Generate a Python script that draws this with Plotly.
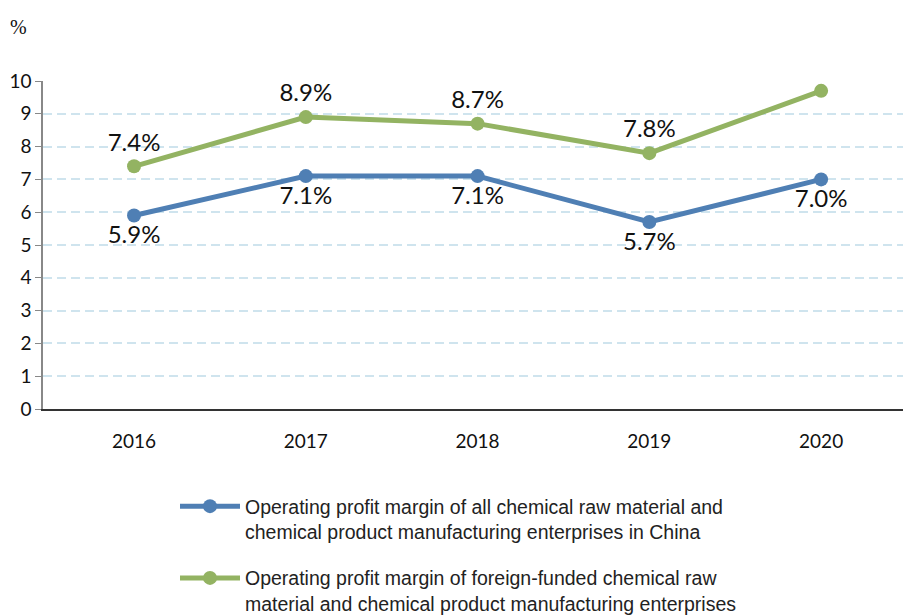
import plotly.graph_objects as go

years = ["2016", "2017", "2018", "2019", "2020"]
all_margin = [5.9, 7.1, 7.1, 5.7, 7.0]
foreign_margin = [7.4, 8.9, 8.7, 7.8, 9.7]
name_all = "Operating profit margin of all chemical raw material and<br>chemical product manufacturing enterprises in China"
name_foreign = "Operating profit margin of foreign-funded chemical raw<br>material and chemical product manufacturing enterprises"
y_ticks = list(range(0, 11))

fig = go.Figure()
fig.add_trace(go.Scatter(
    x=years, y=all_margin, name=name_all, mode="lines+markers+text",
    legendgroup="all",
    line=dict(color="#4f7fb4", width=5), marker=dict(size=14, color="#4f7fb4"),
    text=[f"{v:.1f}%" for v in all_margin], textposition="bottom center",
    textfont=dict(family="Lato", size=24, color="#111111"),
))
fig.add_trace(go.Scatter(
    x=years, y=foreign_margin, name=name_foreign, mode="lines+markers+text",
    legendgroup="foreign",
    line=dict(color="#93b362", width=5), marker=dict(size=14, color="#93b362"),
    text=[f"{v:.1f}%" for v in foreign_margin], textposition="top center",
    textfont=dict(family="Lato", size=24, color="#111111"),
))

# page body has an 8px margin, so the figure is drawn 8px in from the window edge
W, H = 903, 608
L, R, T, B = 35, 4, 73, 207
PW, PH = W - L - R, H - T - B
fig.update_layout(
    width=W, height=H,
    margin=dict(l=L, r=R, t=T, b=B, autoexpand=False),
    paper_bgcolor="white", plot_bgcolor="white",
    showlegend=True,
    legend=dict(
        x=(167 - L) / PW, y=((H - B) - 479) / PH, xanchor="left", yanchor="top",
        font=dict(family="Liberation Sans", size=19.5, color="#222222"),
        tracegroupgap=18, itemwidth=60, valign="top",
    ),
    annotations=[dict(
        text="%", xref="x domain", yref="y domain",
        x=(10 - L) / PW, y=((H - B) - 19) / PH,
        showarrow=False, xanchor="center", yanchor="middle",
        font=dict(family="Liberation Serif, serif", size=20, color="#111111"),
    )],
)

fig.update_xaxes(
    type="category", range=[-0.53, 4.5],
    showgrid=False, showline=True, linecolor="#333333", linewidth=1.5,
    ticks="", ticklabelstandoff=14,
    tickfont=dict(family="Lato", size=19, color="#111111"),
    zeroline=False,
)
fig.update_yaxes(
    range=[0, 10], tickvals=y_ticks,
    showgrid=True, gridcolor="#cfe4ee", griddash="9px,5px", gridwidth=2,
    showline=True, linecolor="#888888", linewidth=1.5,
    ticks="outside", ticklen=6, tickcolor="#888888",
    tickfont=dict(family="Lato", size=19, color="#111111"),
    zeroline=False,
)

fig.write_html("out.html")
